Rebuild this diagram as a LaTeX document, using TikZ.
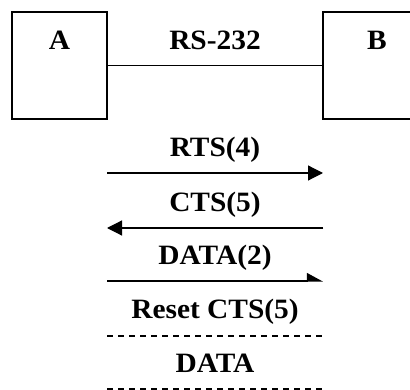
\documentclass[tikz,border=0pt]{standalone}
\usepackage{fontspec}
\setmainfont{Liberation Serif}[FakeStretch=1.05]
\usepackage{tikz}
\usetikzlibrary{positioning,arrows.meta}

\begin{document}
\begin{tikzpicture}[
  x={(1pt,0pt)}, y={(0pt,-1pt)},
  lbl/.style={font=\bfseries\fontsize{28}{32}\selectfont, inner sep=0pt, anchor=base},
  station/.style={draw, line width=1.6pt, minimum width=95pt, minimum height=107pt, inner sep=0pt},
  msg/.style={line width=1.2pt, -{Triangle[length=15pt,width=15pt]}},
  stub/.style={line width=2.6pt},
  dashline/.style={line width=1.6pt, dash pattern=on 6pt off 5pt}
]
\clip (0,0) rectangle (410,390);
% the two stations
\node[station] (a) at (59.5,65.5) {};
\node[station, minimum width=100pt] (b) at (373,65.5) {};
\node[lbl] (aname) at (59.5,50) {A};
\node[lbl] (bname) at (377,50) {B};
\draw[line width=1.3pt] (a.east) -- (b.west);
\node[lbl] (link) at (215,50) {RS-232};

% handshake
\coordinate (rtsL) at (107,173);  \coordinate (rtsR) at (323,173);
\coordinate (ctsL) at (107,228);  \coordinate (ctsR) at (323,228);
\coordinate (datL) at (107,281);  \coordinate (datR) at (323,281);
\coordinate (rstL) at (107,336);  \coordinate (rstR) at (323,336);
\coordinate (endL) at (107,389);  \coordinate (endR) at (323,389);

\node[lbl] (rts) at (215,157) {RTS(4)};
\draw[msg] (rtsL) -- (rtsR);
\draw[stub] (rtsL) -- ++(24,0);

\node[lbl] (cts) at (215,212) {CTS(5)};
\draw[msg] (ctsR) -- (ctsL);
\draw[stub] (ctsR) -- ++(-23,0);

\node[lbl] (data2) at (215,265) {DATA(2)};
\draw[line width=1.2pt, -{Triangle[harpoon,length=15pt,width=16pt]}] (datL) -- (datR);

\node[lbl] (reset) at (215,319) {Reset CTS(5)};
\draw[dashline] (rstL) -- (rstR);

\node[lbl] (data) at (215,373) {DATA};
\draw[dashline] (endL) -- (endR);
\end{tikzpicture}
\end{document}
